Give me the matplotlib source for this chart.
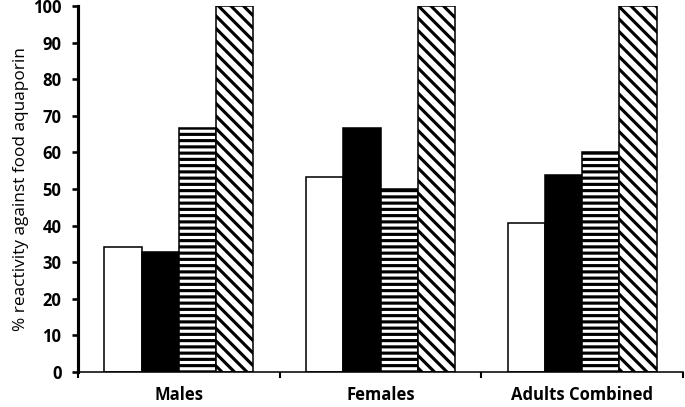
import matplotlib.pyplot as plt
import numpy as np

plt.rcParams['font.family'] = ['Open Sans', 'DejaVu Sans']
plt.rcParams['hatch.linewidth'] = 3.0
plt.rcParams['hatch.color'] = 'black'

# Data
categories = ['Males', 'Females', 'Adults Combined']
series_1 = [34.1, 53.3, 40.7]   # white
series_2 = [32.8, 66.7, 53.8]   # black
series_3 = [66.7, 50.0, 60.0]   # horizontal stripes
series_4 = [100.0, 100.0, 100.0]  # diagonal stripes
yticks = list(range(0, 101, 10))

fig = plt.figure(figsize=(685 / 75, 407 / 75), dpi=75)
ax = fig.add_axes([0.114, 0.086, 0.883, 0.899])

x = np.arange(len(categories))
w = 0.185
styles = [
    dict(color='white', hatch=None),
    dict(color='black', hatch=None),
    dict(color='white', hatch='--'),
    dict(color='white', hatch='\\\\'),
]
for i, (vals, st) in enumerate(zip([series_1, series_2, series_3, series_4], styles)):
    ax.bar(x + (i - 1.5) * w, vals, w, facecolor=st['color'], edgecolor='black',
           linewidth=1.5, hatch=st['hatch'], zorder=2)

ax.set_xlim(-0.5, 2.5)
ax.set_ylim(0, 100)
ax.set_yticks(yticks)
ax.tick_params(axis='y', labelsize=16, width=2.5, length=6, direction='out', pad=10)
for lab in ax.get_yticklabels():
    lab.set_fontweight('bold')

# category labels at centers, ticks at boundaries
ax.set_xticks(np.arange(-0.5, len(categories), 1.0))
ax.set_xticklabels([''] * (len(categories) + 1))
ax.set_xticks(x, minor=True)
ax.set_xticklabels(categories, minor=True, fontsize=16, fontweight='bold')
ax.tick_params(axis='x', which='major', width=2, length=6, direction='out')
ax.tick_params(axis='x', which='minor', length=0, pad=13)

ax.set_ylabel('% reactivity against food aquaporin', fontsize=16.5, labelpad=4)

for s in ['top', 'right']:
    ax.spines[s].set_visible(False)
ax.spines['left'].set_linewidth(3)
ax.spines['bottom'].set_linewidth(1.5)

fig.savefig('out.png', dpi=75)
